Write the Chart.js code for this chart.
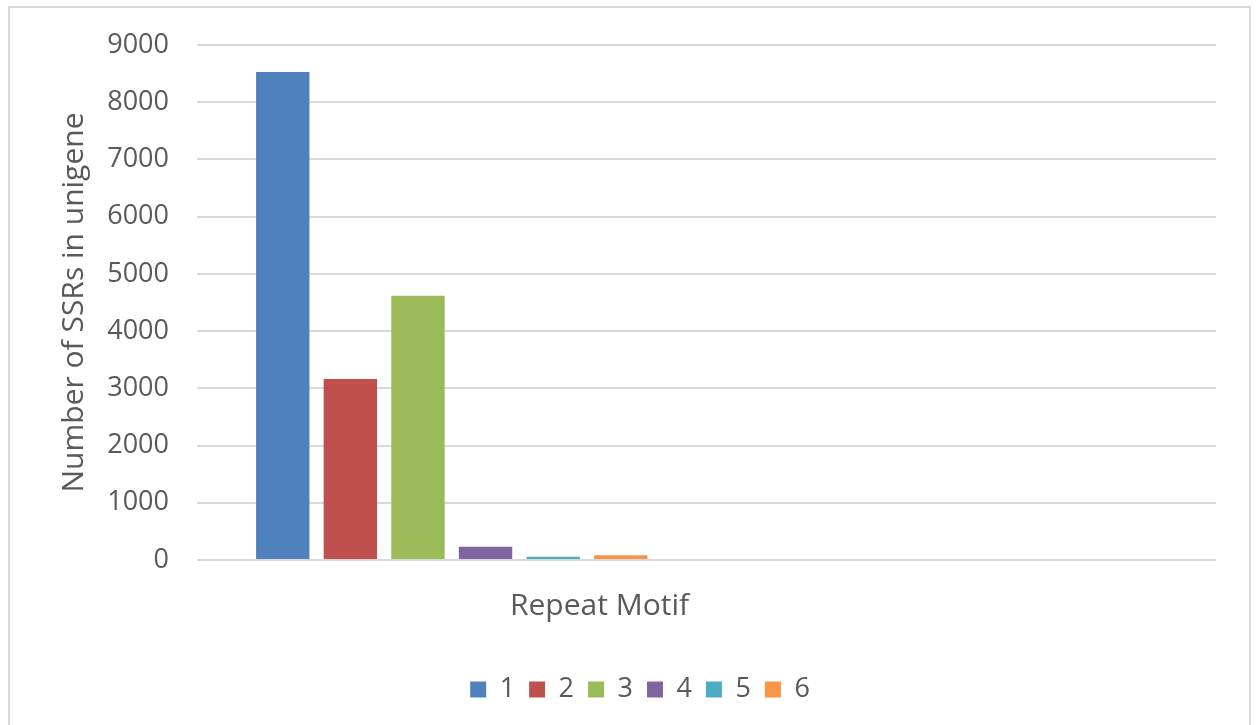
<!DOCTYPE html>
<html>
<head>
<meta charset="utf-8">
<title>SSR repeat motifs</title>
<script src="https://cdn.jsdelivr.net/npm/chart.js@4.4.0/dist/chart.umd.min.js"></script>
<style>
  html, body { margin: 0; padding: 0; background: #fff; overflow: hidden; }
  #frame {
    position: absolute; left: 8px; top: 6px; width: 1243px; height: 740px;
    border: 2px solid #d9d9d9; box-sizing: border-box;
  }
  #ssrChart { position: absolute; left: 0; top: 0; }
</style>
</head>
<body>
<div id="frame"></div>
<canvas id="ssrChart" width="1257" height="725"></canvas>
<script>
// Motif length groups and SSR counts found in unigenes
const motifNames = ['1', '2', '3', '4', '5', '6'];
const ssrCounts = [8530, 3165, 4620, 230, 55, 85];
const motifColors = ['#4f81bd', '#c0504d', '#9bbb59', '#8064a2', '#4bacc6', '#f79646'];
// x axis has one filled slot and one empty slot
const xSlots = ['', ''];
const yTicks = [0, 1000, 2000, 3000, 4000, 5000, 6000, 7000, 8000, 9000];

const textColor = '#595959';
const fontFamily = '"Open Sans", "Noto Sans", sans-serif';

// one dataset per motif, value sits in the first slot only
const datasets = motifNames.map(function (name, i) {
  return {
    label: name,
    data: [ssrCounts[i], null],
    backgroundColor: motifColors[i],
    borderWidth: 0
  };
});

// draws the x axis title a bit left of centre
const xTitlePlugin = {
  id: 'xTitle',
  afterLayout(chart) {
    // nudge the legend row to the right
    chart.legend.left += 64;
  },
  afterDraw(chart) {
    const area = chart.chartArea;
    const ctx = chart.ctx;
    ctx.save();
    ctx.font = '30px ' + fontFamily;
    ctx.fillStyle = textColor;
    ctx.textAlign = 'center';
    ctx.textBaseline = 'middle';
    ctx.fillText('Repeat Motif', area.left + (area.right - area.left) * 0.395, area.bottom + 46);
    ctx.restore();
  }
};

const ssrChart = new Chart(document.getElementById('ssrChart'), {
  type: 'bar',
  data: {
    labels: xSlots,
    datasets: datasets
  },
  plugins: [xTitlePlugin],
  options: {
    responsive: false,
    animation: false,
    categoryPercentage: 0.796,
    barPercentage: 0.79,
    layout: {
      padding: { left: 0, right: 41, top: 45, bottom: 12 }
    },
    plugins: {
      tooltip: { enabled: false },
      legend: {
        position: 'bottom',
        labels: {
          boxWidth: 16,
          boxHeight: 16,
          padding: 14,
          color: textColor,
          font: { family: fontFamily, size: 27 }
        }
      }
    },
    scales: {
      x: {
        grid: { display: false },
        border: { display: false },
        ticks: { display: false },
        afterFit(scale) { scale.height = 102; }
      },
      y: {
        min: 0,
        max: 9000,
        afterBuildTicks(scale) {
          scale.ticks = yTicks.map(v => ({ value: v }));
        },
        afterFit(scale) { scale.width = 197; },
        grid: { color: '#d9d9d9', lineWidth: 2, drawTicks: false },
        border: { display: false },
        ticks: {
          padding: 28,
          color: textColor,
          font: { family: fontFamily, size: 27 },
          callback: value => String(value)
        },
        title: {
          display: true,
          text: 'Number of SSRs in unigene',
          color: textColor,
          padding: { top: 56, bottom: 0 },
          font: { family: fontFamily, size: 30 }
        }
      }
    }
  }
});
</script>
</body>
</html>
